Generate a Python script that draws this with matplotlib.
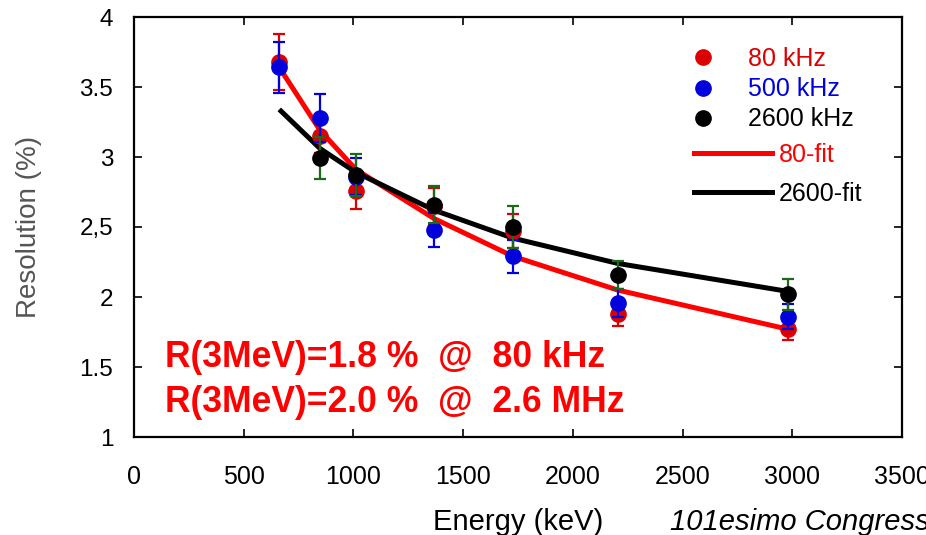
import matplotlib
matplotlib.use("Agg")
import matplotlib.pyplot as plt
from matplotlib.lines import Line2D
import numpy as np

plt.rcParams['font.family'] = ['Liberation Sans', 'DejaVu Sans']

# energies of the calibration lines (keV)
energy = [662, 848, 1012, 1368, 1728, 2204, 2980]

# resolution (%)
res_80 = [3.68, 3.15, 2.76, 2.65, 2.47, 1.88, 1.77]
err_80 = [0.20, 0.12, 0.13, 0.13, 0.12, 0.09, 0.08]
res_500 = [3.64, 3.28, 2.86, 2.48, 2.29, 1.96, 1.86]
err_500 = [0.18, 0.17, 0.13, 0.12, 0.12, 0.10, 0.09]
energy_2600 = [848, 1012, 1368, 1728, 2204, 2980]
res_2600 = [2.99, 2.87, 2.66, 2.50, 2.16, 2.02]
err_2600 = [0.15, 0.15, 0.13, 0.15, 0.10, 0.11]

# fitted curves evaluated at the same energies
fit_80 = [3.64, 3.19, 2.91, 2.56, 2.29, 2.05, 1.77]
fit_2600 = [3.34, 3.06, 2.89, 2.62, 2.42, 2.24, 2.04]

x_ticks = [0, 500, 1000, 1500, 2000, 2500, 3000, 3500]
y_ticks = [1, 1.5, 2, 2.5, 3, 3.5, 4]
y_tick_labels = ['1', '1.5', '2', '2,5', '3', '3.5', '4']

W, H = 926, 535
fig = plt.figure(figsize=(W / 100, H / 100), dpi=100)
ax_l, ax_r, ax_t, ax_b = 134, 902, 17, 437
ax = fig.add_axes([ax_l / W, 1 - ax_b / H, (ax_r - ax_l) / W, (ax_b - ax_t) / H])

def ax_frac(px, py):
    return (px - ax_l) / (ax_r - ax_l), (ax_b - py) / (ax_b - ax_t)

# fit lines underneath
ax.plot(energy, fit_80, color='#ff0000', lw=3.6, zorder=2, solid_capstyle='butt')
ax.plot(energy, fit_2600, color='black', lw=3.6, zorder=2, solid_capstyle='butt')

ebar = dict(fmt='o', ms=11, elinewidth=1.6, capsize=4.5, capthick=1.6)
ax.errorbar(energy, res_80, yerr=err_80, color='#dd0000', ecolor='#dd0000',
            zorder=3, **ebar)
ax.errorbar(energy, res_500, yerr=err_500, color='#0000dd', ecolor='#0000dd',
            zorder=4, **ebar)
ax.errorbar(energy_2600, res_2600, yerr=err_2600, color='black', ecolor='#1a6a1a',
            zorder=5, **ebar)

ax.set_xlim(0, 3500)
ax.set_ylim(1, 4)
ax.set_xticks(x_ticks)
ax.set_yticks(y_ticks)
ax.set_yticklabels(y_tick_labels)
ax.tick_params(axis='both', direction='in', length=6, width=1.2,
               top=True, right=True)
ax.tick_params(axis='x', labelsize=18, pad=20)
ax.tick_params(axis='y', labelsize=17.5, pad=15)
for sp in ax.spines.values():
    sp.set_linewidth(1.6)

ax.set_xlabel('Energy (keV)', fontsize=21, labelpad=14)
ax.set_ylabel('Resolution (%)', fontsize=20, color='#555555', labelpad=27)

# legends
pt_handles = [Line2D([], [], ls='none', marker='o', ms=11, color=c)
              for c in ['#dd0000', '#0000dd', 'black']]
leg1 = ax.legend(pt_handles, ['80 kHz', '500 kHz', '2600 kHz'],
                 loc='upper left', bbox_to_anchor=ax_frac(690, 47),
                 frameon=False, fontsize=18, borderpad=0, borderaxespad=0,
                 handlelength=1.0, handletextpad=1.3, labelspacing=0.25,
                 labelcolor=['#dd0000', '#0000dd', 'black'])
ax.add_artist(leg1)
ln_handles = [Line2D([], [], color=c, lw=3.6) for c in ['#ff0000', 'black']]
ax.legend(ln_handles, ['80-fit', '2600-fit'],
          loc='upper left', bbox_to_anchor=ax_frac(694, 143),
          frameon=False, fontsize=18, borderpad=0, borderaxespad=0,
          handlelength=3.1, handletextpad=0.3, labelspacing=0.6,
          labelcolor=['#ff0000', 'black'])

# annotation
ax.text(*ax_frac(165, 367), 'R(3MeV)=1.8 %  @  80 kHz', color='#ff0000',
        fontsize=25.6, fontweight='bold', va='baseline', ha='left',
        transform=ax.transAxes)
ax.text(*ax_frac(165, 412), 'R(3MeV)=2.0 %  @  2.6 MHz', color='#ff0000',
        fontsize=25.6, fontweight='bold', va='baseline', ha='left',
        transform=ax.transAxes)

fig.text(670 / W, 1 - 530 / H, '101esimo Congresso', fontsize=21,
         style='italic', va='baseline', ha='left')

fig.savefig('out.png', dpi=100)
